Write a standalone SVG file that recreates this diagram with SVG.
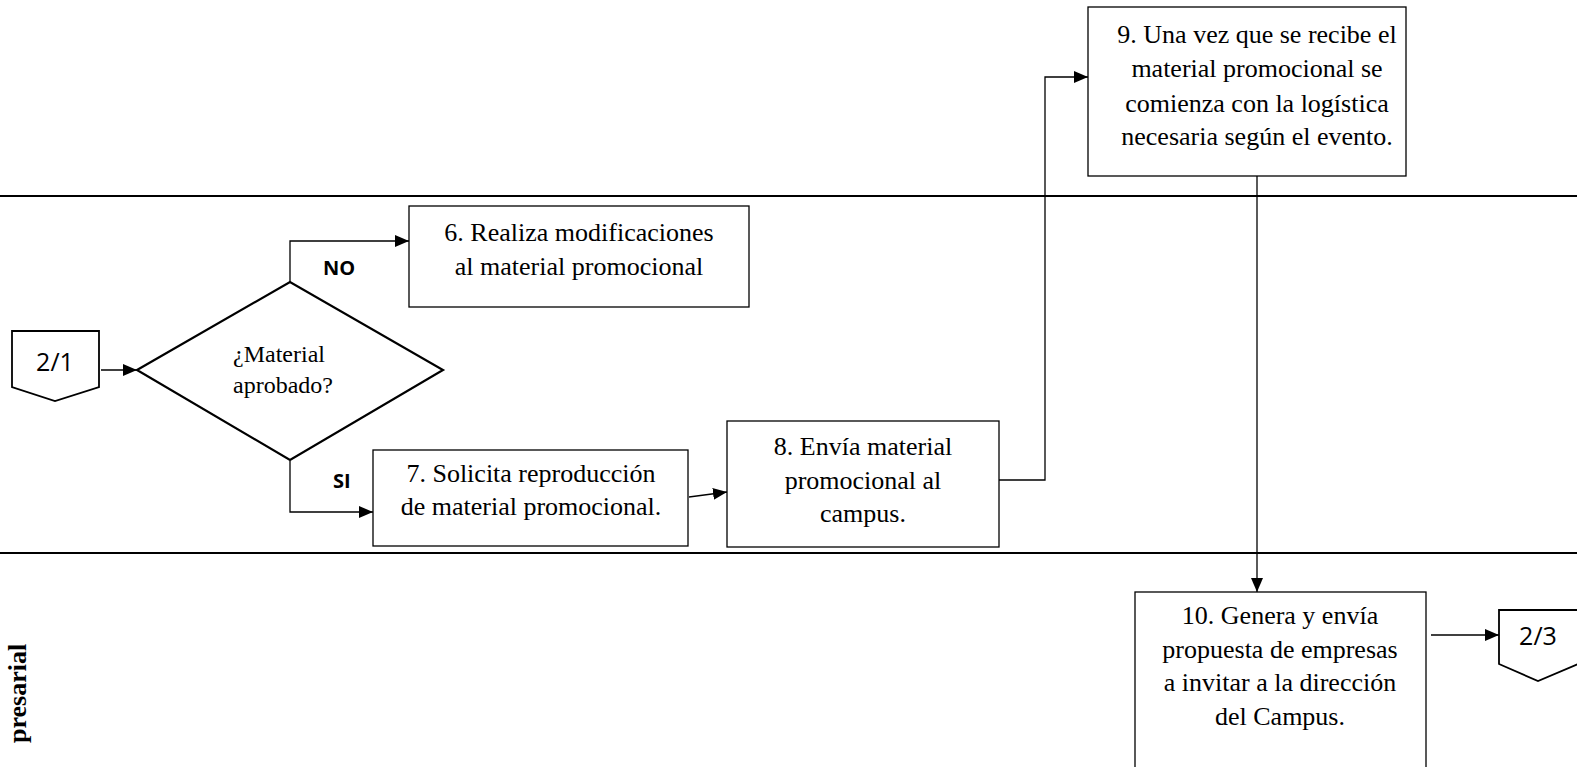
<svg xmlns="http://www.w3.org/2000/svg" width="1577" height="767" viewBox="0 0 1577 767">
  <style>
    .lane { stroke: #000; stroke-width: 2; fill: none; }
    .box { fill: #fff; stroke: #000; stroke-width: 1.3; }
    .dec { fill: #fff; stroke: #000; stroke-width: 2.2; }
    .off { fill: #fff; stroke: #000; stroke-width: 1.8; }
    .t { font-family: "Liberation Serif", "Times New Roman", serif; font-size: 26px; fill: #000; text-anchor: middle; }
    .dt { font-family: "Liberation Serif", "Times New Roman", serif; font-size: 24px; fill: #000; }
    .ref { font-family: "Open Sans", "Liberation Sans", sans-serif; font-size: 25px; fill: #000; text-anchor: middle; }
    .lbl { font-family: "Open Sans", "Liberation Sans", sans-serif; font-size: 20px; font-weight: bold; fill: #000; }
    .lane-title { font-family: "Liberation Serif", "Times New Roman", serif; font-size: 26px; font-weight: bold; fill: #000; }
    .conn { stroke: #000; stroke-width: 1.3; fill: none; }
  </style>
  <defs>
    <marker id="arrow" viewBox="0 0 14 12" refX="14" refY="6" markerWidth="14" markerHeight="12" markerUnits="userSpaceOnUse" orient="auto">
      <path d="M0,0 L14,6 L0,12 Z" fill="#000"/>
    </marker>
  </defs>

  <rect x="0" y="0" width="1577" height="767" fill="#fff"/>

  <!-- swimlane separators -->
  <g id="lanes">
    <line class="lane" x1="0" y1="196" x2="1577" y2="196"/>
    <line class="lane" x1="0" y1="553" x2="1577" y2="553"/>
    <text class="lane-title" transform="translate(26,743) rotate(-90)">presarial</text>
  </g>

  <!-- connectors -->
  <g id="connectors">
    <path class="conn" d="M101,370 L137,370" marker-end="url(#arrow)"/>
    <path class="conn" d="M290,282 L290,241 L409,241" marker-end="url(#arrow)"/>
    <path class="conn" d="M290,461 L290,512 L373,512" marker-end="url(#arrow)"/>
    <path class="conn" d="M689,497 L727,492" marker-end="url(#arrow)"/>
    <path class="conn" d="M999,480 L1045,480 L1045,77 L1088,77" marker-end="url(#arrow)"/>
    <path class="conn" d="M1257,176 L1257,592" marker-end="url(#arrow)"/>
    <path class="conn" d="M1431,635 L1499,635" marker-end="url(#arrow)"/>
    <text class="lbl" x="323" y="275">NO</text>
    <text class="lbl" x="333" y="488">SI</text>
  </g>

  <!-- off-page connector 2/1 -->
  <g id="ref-2-1">
    <path class="off" d="M12,331 L99,331 L99,387 L55,401 L12,387 Z"/>
    <text class="ref" x="55" y="371">2/1</text>
  </g>

  <!-- decision -->
  <g id="decision">
    <path class="dec" d="M137,370 L290,282 L443,370 L290,460 Z"/>
    <text class="dt" x="233" y="362">¿Material</text>
    <text class="dt" x="233" y="393">aprobado?</text>
  </g>

  <!-- step 6 -->
  <g id="step6">
    <rect class="box" x="409" y="206" width="340" height="101"/>
    <text class="t" x="579" y="241">6. Realiza modificaciones</text>
    <text class="t" x="579" y="275">al material promocional</text>
  </g>

  <!-- step 7 -->
  <g id="step7">
    <rect class="box" x="373" y="450" width="315" height="96"/>
    <text class="t" x="531" y="482">7. Solicita reproducción</text>
    <text class="t" x="531" y="515">de material promocional.</text>
  </g>

  <!-- step 8 -->
  <g id="step8">
    <rect class="box" x="727" y="421" width="272" height="126"/>
    <text class="t" x="863" y="455">8. Envía material</text>
    <text class="t" x="863" y="489">promocional al</text>
    <text class="t" x="863" y="522">campus.</text>
  </g>

  <!-- step 9 -->
  <g id="step9">
    <rect class="box" x="1088" y="7" width="318" height="169"/>
    <text class="t" x="1257" y="43">9. Una vez que se recibe el</text>
    <text class="t" x="1257" y="77">material promocional se</text>
    <text class="t" x="1257" y="112">comienza con la logística</text>
    <text class="t" x="1257" y="145">necesaria según el evento.</text>
  </g>

  <!-- step 10 -->
  <g id="step10">
    <rect class="box" x="1135" y="592" width="291" height="185"/>
    <text class="t" x="1280" y="624">10. Genera y envía</text>
    <text class="t" x="1280" y="658">propuesta de empresas</text>
    <text class="t" x="1280" y="691">a invitar a la dirección</text>
    <text class="t" x="1280" y="725">del Campus.</text>
  </g>

  <!-- off-page connector 2/3 -->
  <g id="ref-2-3">
    <path class="off" d="M1499,610 L1578,610 L1578,664 L1538,681 L1499,664 Z"/>
    <text class="ref" x="1538" y="645">2/3</text>
  </g>
</svg>
